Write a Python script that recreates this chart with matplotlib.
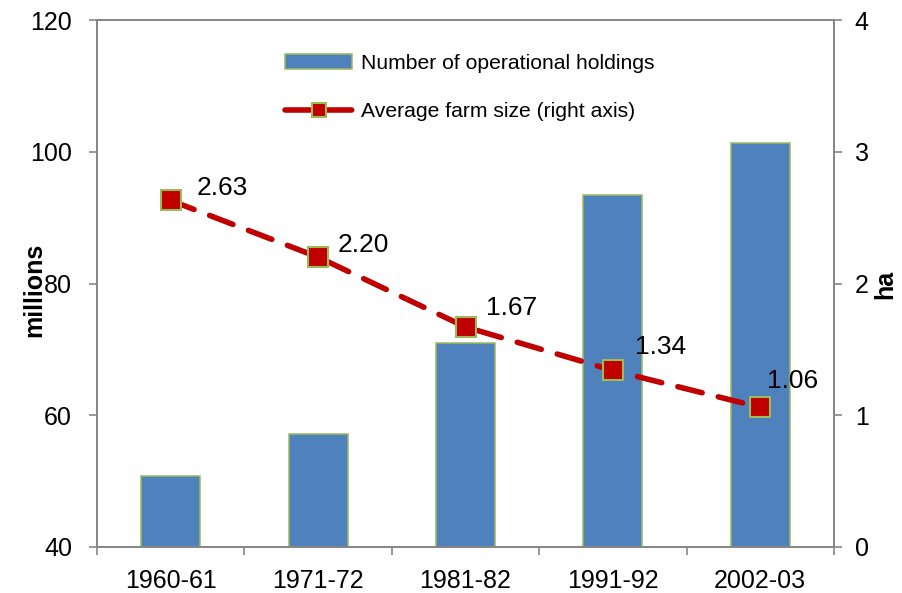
import matplotlib
matplotlib.use("Agg")
import matplotlib.pyplot as plt
import numpy as np
from matplotlib.ticker import FixedLocator, NullFormatter

plt.rcParams['font.family'] = ['Liberation Sans', 'DejaVu Sans']

categories = ["1960-61", "1971-72", "1981-82", "1991-92", "2002-03"]
holdings = [50.8, 57.1, 71.0, 93.5, 101.3]
farm_size = [2.63, 2.20, 1.67, 1.34, 1.06]
farm_labels = ["2.63", "2.20", "1.67", "1.34", "1.06"]
left_ticks = [40, 60, 80, 100, 120]
right_ticks = [0, 1, 2, 3, 4]

label_offsets = [(19, 9), (14, 9), (15, 14), (16, 17), (5, 19)]

GRAY = "#868686"
BLUE = "#4F81BD"
GREEN = "#9BBB59"
RED = "#C00000"

fig = plt.figure(figsize=(9.03, 5.93), dpi=100)
ax = fig.add_axes([97/903, 1-547/593, (834-97)/903, (547-20)/593])
ax2 = ax.twinx()

x = np.arange(len(categories))
bars = ax.bar(x, holdings, width=0.4, color=BLUE, edgecolor=GREEN, linewidth=1.1,
              label="Number of operational holdings", zorder=2)
line, = ax2.plot(x, farm_size, color=RED, linewidth=4.0, dashes=(4.5, 3.0),
                 dash_capstyle='round', marker='s', markersize=14,
                 markerfacecolor=RED, markeredgecolor=GREEN, markeredgewidth=1.5,
                 label="Average farm size (right axis)", zorder=3)

for xi, yi, txt, off in zip(x, farm_size, farm_labels, label_offsets):
    ax2.annotate(txt, (xi, yi), xytext=off, textcoords='offset points',
                 fontsize=19, ha='left', va='center', color='black')

ax.set_xlim(-0.5, len(categories) - 0.5)
ax.set_ylim(40, 120)
ax2.set_ylim(0, 4)
ax.set_yticks(left_ticks)
ax2.set_yticks(right_ticks)

ax.set_xticks(x)
ax.set_xticklabels(categories)
ax.xaxis.set_minor_locator(FixedLocator(np.arange(-0.5, len(categories), 1.0)))
ax.xaxis.set_minor_formatter(NullFormatter())
ax.tick_params(axis='x', which='major', length=0, pad=16, labelsize=18)
ax.tick_params(axis='x', which='minor', length=6, width=1.2, color=GRAY, direction='out')
ax.tick_params(axis='y', length=6, width=1.2, color=GRAY, direction='out', pad=12, labelsize=18)
ax2.tick_params(axis='y', length=6, width=1.2, color=GRAY, direction='out', pad=9, labelsize=18)

for a in (ax, ax2):
    for s in a.spines.values():
        s.set_color(GRAY)
        s.set_linewidth(1.3)

fig.text(46/903, 1-290/593, "millions", rotation=90, ha='right', va='center',
         fontsize=18, fontweight='bold')
fig.text(873/903, 1-284/593, "ha", rotation=90, ha='left', va='center',
         fontsize=18, fontweight='bold')

leg = ax2.legend(handles=[bars, line], loc='upper left', bbox_to_anchor=(0.229, 0.972),
                 frameon=False, fontsize=15.2, handlelength=3.2, handletextpad=0.4,
                 labelspacing=1.38, numpoints=1, markerscale=0.72)

fig.savefig("out.png", dpi=100)
